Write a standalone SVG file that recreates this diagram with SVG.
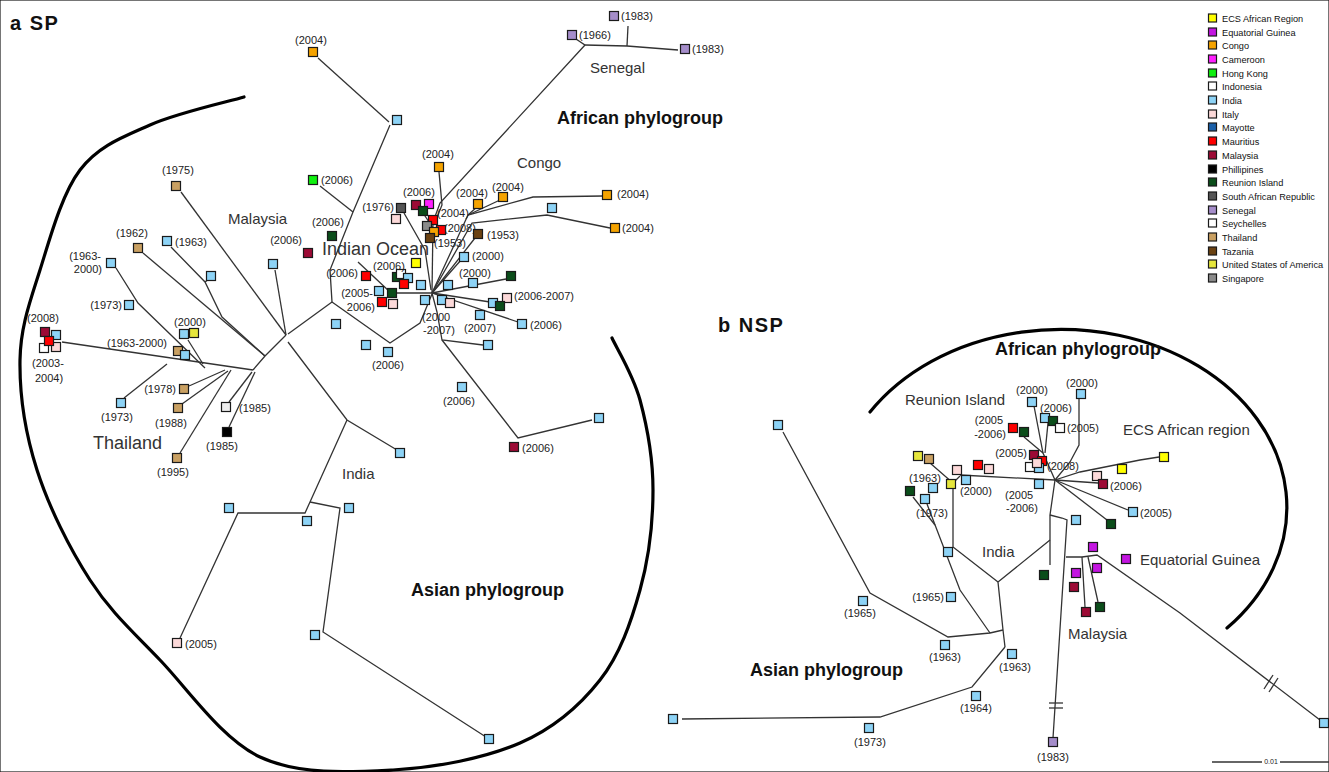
<svg xmlns="http://www.w3.org/2000/svg" width="1329" height="772" viewBox="0 0 1329 772">
<style>
text{font-family:"Liberation Sans",Arial,sans-serif;fill:#222}
.lb{font-size:11px}
.rg{font-size:15px;fill:#333}
.big{font-size:18px;fill:#333}
.bd{font-size:18px;font-weight:bold;fill:#111}
.tt{font-size:20px;font-weight:bold;fill:#111;letter-spacing:1.5px}
.lg{font-size:9.2px;fill:#111}
.ln{fill:none;stroke:#333;stroke-width:1.3}
.arc{fill:none;stroke:#000;stroke-width:3.2;stroke-linecap:round}
rect{stroke:#1a1a1a;stroke-width:1.2}
.B{fill:#8dd3f6}.O{fill:#f5a300}.T{fill:#c9a062}.G{fill:#0b4d1a}.R{fill:#ff0000}.M{fill:#9c0a35}
.P{fill:#fcd9d9}.W{fill:#ffffff}.Y{fill:#ffff00}.U{fill:#e6e63c}.S{fill:#a58dca}.E{fill:#c315e0}
.C{fill:#ff1fff}.H{fill:#10f010}.SG{fill:#8a8a8a}.TZ{fill:#6b4212}.SA{fill:#555555}.MY{fill:#1a5fa8}.K{fill:#000000}
</style>
<rect x="0" y="0" width="1329" height="772" fill="#ffffff" stroke="none"/>

<g id="titles">
<text class="tt" x="10" y="30">a SP</text>
<text class="tt" x="718" y="332">b NSP</text>
</g>

<g id="arcs">
<path class="arc" d="M244,97 C228.3,101.7 177.3,112.8 150,125 C122.7,137.2 98.3,145.8 80,170 C61.7,194.2 50,238.3 40,270 C30,301.7 20.5,326.7 20,360 C19.5,393.3 25.3,433.3 37,470 C48.7,506.7 69.5,548.3 90,580 C110.5,611.7 131.7,630.5 160,660 C188.3,689.5 221.2,738.3 260,757 C298.8,775.3 349.7,772.3 393,770 C436.3,767.7 485.5,758 520,743 C554.5,728 580,705.5 600,680 C620,654.5 631.2,621.7 640,590 C648.8,558.3 653,521.7 653,490 C653,458.3 646.8,425.3 640,400 C633.2,374.7 616.7,348.3 612,338"/>
<path class="arc" d="M870,412 A226,178 0 1 1 1227,628"/>
</g>

<g id="region-labels">
<text class="bd" x="557" y="124">African phylogroup</text>
<text class="bd" x="411" y="596">Asian phylogroup</text>
<text class="rg" x="590" y="73">Senegal</text>
<text class="rg" x="517" y="168">Congo</text>
<text class="rg" x="228" y="224">Malaysia</text>
<text class="big" x="322" y="255">Indian Ocean</text>
<text class="big" x="93" y="449">Thailand</text>
<text class="rg" x="342" y="479">India</text>
<text class="bd" x="995" y="355">African phylogroup</text>
<text class="bd" x="750" y="676">Asian phylogroup</text>
<text class="rg" x="905" y="405">Reunion Island</text>
<text class="rg" x="1123" y="435">ECS African region</text>
<text class="rg" x="982" y="557">India</text>
<text class="rg" x="1140" y="565">Equatorial Guinea</text>
<text class="rg" x="1068" y="639">Malaysia</text>
</g>

<g id="connectors">
<!-- SP Senegal -->
<polyline class="ln" points="576,39 585,45 627,46 678,50"/>
<polyline class="ln" points="627,46 628,26"/>
<polyline class="ln" points="585,45 440,203 433,222"/>
<!-- SP top -->
<polyline class="ln" points="318,58 389,122"/>
<polyline class="ln" points="390,125 353,212 330,270 332,302"/>
<polyline class="ln" points="320,186 353,212"/>
<!-- SP backbone -->
<polyline class="ln" points="332,302 288,334"/>
<polyline class="ln" points="332,302 390,343 420,323 432,294"/>
<polyline class="ln" points="286,335 181,192"/>
<polyline class="ln" points="286,335 275,270"/>
<polyline class="ln" points="286,335 265,356 253,370"/>
<!-- Thailand -->
<polyline class="ln" points="265,356 143,253"/>
<polyline class="ln" points="265,356 222,317 205,282 171,247"/>
<polyline class="ln" points="205,282 209,279"/>
<polyline class="ln" points="253,370 62,342"/>
<polyline class="ln" points="116,268 138,303 205,368"/>
<polyline class="ln" points="188,340 203,364"/>
<polyline class="ln" points="124,398 167,364"/>
<polyline class="ln" points="189,386 225,370"/>
<polyline class="ln" points="182,404 228,371"/>
<polyline class="ln" points="180,453 231,370"/>
<polyline class="ln" points="229,402 252,372"/>
<polyline class="ln" points="229,427 255,372"/>
<!-- India -->
<polyline class="ln" points="288,342 347,420 397,450"/>
<polyline class="ln" points="347,420 310,502 305,513 238,513 180,638"/>
<polyline class="ln" points="310,502 340,508 323,632 486,737"/>
<!-- Indian Ocean centre -->
<polyline class="ln" points="432,293 433,222"/>
<polyline class="ln" points="439,172 442,205 434,225"/>
<polyline class="ln" points="404,213 425,250 431,290"/>
<polyline class="ln" points="423,213 433,228"/>
<polyline class="ln" points="432,293 468,215 533,197 603,196"/>
<polyline class="ln" points="468,215 478,206"/>
<polyline class="ln" points="468,215 500,200"/>
<polyline class="ln" points="432,293 472,223 547,215 610,228"/>
<polyline class="ln" points="432,293 475,238"/>
<polyline class="ln" points="432,293 461,260"/>
<polyline class="ln" points="432,293 506,279"/>
<polyline class="ln" points="432,293 490,302"/>
<polyline class="ln" points="432,293 518,322"/>
<polyline class="ln" points="432,293 388,293"/>
<polyline class="ln" points="358,262 390,292"/>
<polyline class="ln" points="432,293 437,312 442,340 483,345"/>
<polyline class="ln" points="442,340 518,438 592,420"/>
<!-- NSP -->
<polyline class="ln" points="960,475 1055,480"/>
<polyline class="ln" points="930,463 953,483 953,547 998,582"/>
<polyline class="ln" points="953,483 960,476"/>
<polyline class="ln" points="927,504 960,590 990,633"/>
<polyline class="ln" points="913,497 935,525"/>
<polyline class="ln" points="1055,480 1050,515 1050,565"/>
<polyline class="ln" points="1050,540 998,582 1003,630 1005,647"/>
<polyline class="ln" points="1003,630 990,633 948,637 870,593 783,432"/>
<polyline class="ln" points="1005,647 972,687 880,717 682,719"/>
<polyline class="ln" points="1050,515 1062,518 1067,520 1053,738"/>
<polyline class="ln" points="1049,703 1063,703"/>
<polyline class="ln" points="1049,708 1063,708"/>
<polyline class="ln" points="1066,557 1082,557 1097,555 1180,613 1320,720"/>
<polyline class="ln" points="1264,689 1273,675"/>
<polyline class="ln" points="1269,692 1278,678"/>
<polyline class="ln" points="1082,557 1085,607"/>
<polyline class="ln" points="1088,557 1098,602"/>
<polyline class="ln" points="1055,480 1070,462 1079,445 1079,399"/>
<polyline class="ln" points="1055,480 1043,453 1034,406"/>
<polyline class="ln" points="1045,453 1048,423"/>
<polyline class="ln" points="1024,437 1043,453"/>
<polyline class="ln" points="1055,480 1080,472 1140,460 1159,457"/>
<polyline class="ln" points="1055,480 1098,483"/>
<polyline class="ln" points="1055,480 1128,510"/>
<polyline class="ln" points="1055,480 1107,520"/>
<!-- scale bar -->
<polyline class="ln" points="1212,762 1262,762"/>
<polyline class="ln" points="1280,762 1329,762"/>
</g>
<text x="1271" y="764" text-anchor="middle" style="font-size:7px">0.01</text>

<!-- SP nodes -->
<g id="sp-senegal-1"><rect class="S" x="609.5" y="11.5" width="9" height="9"/><text class="lb" x="621" y="20">(1983)</text></g>
<g id="sp-senegal-2"><rect class="S" x="567.5" y="30.5" width="9" height="9"/><text class="lb" x="579" y="39">(1966)</text></g>
<g id="sp-senegal-3"><rect class="S" x="680.5" y="44.5" width="9" height="9"/><text class="lb" x="692" y="53">(1983)</text></g>
<g id="sp-t1"><rect class="O" x="308.5" y="47.5" width="9" height="9"/><text class="lb" x="311" y="44" text-anchor="middle">(2004)</text></g>
<g id="sp-t2"><rect class="B" x="392.5" y="115.5" width="9" height="9"/></g>
<g id="sp-t3"><rect class="H" x="308.5" y="175.5" width="9" height="9"/><text class="lb" x="321" y="184">(2006)</text></g>
<g id="sp-c1"><rect class="O" x="434.5" y="162.5" width="9" height="9"/><text class="lb" x="438" y="158" text-anchor="middle">(2004)</text></g>
<g id="sp-c2"><rect class="M" x="411.5" y="200.5" width="9" height="9"/><rect class="C" x="424.5" y="199.5" width="9" height="9"/><rect class="G" x="418.5" y="206.5" width="9" height="9"/><text class="lb" x="419" y="196" text-anchor="middle">(2006)</text></g>
<g id="sp-c5"><rect class="SA" x="396.5" y="203.5" width="9" height="9"/><text class="lb" x="394" y="211" text-anchor="end">(1976)</text></g>
<g id="sp-c6"><rect class="P" x="391.5" y="214.5" width="9" height="9"/></g>
<g id="sp-c7"><rect class="R" x="428.5" y="215.5" width="9" height="9"/><text class="lb" x="437" y="217">(2004)</text></g>
<g id="sp-c8"><rect class="SG" x="422.5" y="221.5" width="9" height="9"/><rect class="R" x="436.5" y="225.5" width="9" height="9"/><rect class="O" x="429.5" y="227.5" width="9" height="9"/><text class="lb" x="444" y="232">(2008)</text></g>
<g id="sp-c11"><rect class="TZ" x="425.5" y="233.5" width="9" height="9"/><text class="lb" x="434" y="247">(1953)</text></g>
<g id="sp-c12"><rect class="TZ" x="473.5" y="229.5" width="9" height="9"/><text class="lb" x="487" y="239">(1953)</text></g>
<g id="sp-c13"><rect class="O" x="473.5" y="199.5" width="9" height="9"/><text class="lb" x="472" y="197" text-anchor="middle">(2004)</text></g>
<g id="sp-c14"><rect class="O" x="498.5" y="192.5" width="9" height="9"/><text class="lb" x="508" y="191" text-anchor="middle">(2004)</text></g>
<g id="sp-c15"><rect class="O" x="602.5" y="190.5" width="9" height="9"/><text class="lb" x="617" y="198">(2004)</text></g>
<g id="sp-c16"><rect class="B" x="547.5" y="203.5" width="9" height="9"/></g>
<g id="sp-c17"><rect class="O" x="610.5" y="223.5" width="9" height="9"/><text class="lb" x="622" y="232">(2004)</text></g>
<g id="sp-c18"><rect class="G" x="327.5" y="231.5" width="9" height="9"/><text class="lb" x="328" y="226" text-anchor="middle">(2006)</text></g>
<g id="sp-c19"><rect class="M" x="303.5" y="248.5" width="9" height="9"/><text class="lb" x="302" y="244" text-anchor="end">(2006)</text></g>
<g id="sp-c20"><rect class="Y" x="411.5" y="258.5" width="9" height="9"/></g>
<g id="sp-c21"><rect class="B" x="459.5" y="252.5" width="9" height="9"/><text class="lb" x="472" y="260">(2000)</text></g>
<g id="sp-c22"><rect class="G" x="392.5" y="272.5" width="9" height="9"/><rect class="W" x="396.5" y="269.5" width="9" height="9"/><rect class="B" x="403.5" y="273.5" width="9" height="9"/><rect class="R" x="399.5" y="279.5" width="9" height="9"/><text class="lb" x="389" y="270" text-anchor="middle">(2006)</text></g>
<g id="sp-c26"><rect class="R" x="361.5" y="271.5" width="9" height="9"/><text class="lb" x="358" y="277" text-anchor="end">(2006)</text></g>
<g id="sp-c27"><rect class="B" x="416.5" y="280.5" width="9" height="9"/></g>
<g id="sp-c28"><rect class="B" x="443.5" y="280.5" width="9" height="9"/></g>
<g id="sp-c29"><rect class="B" x="468.5" y="278.5" width="9" height="9"/><text class="lb" x="475" y="277" text-anchor="middle">(2000)</text></g>
<g id="sp-c30"><rect class="G" x="506.5" y="271.5" width="9" height="9"/></g>
<g id="sp-c31"><rect class="B" x="374.5" y="286.5" width="9" height="9"/><rect class="G" x="387.5" y="288.5" width="9" height="9"/><rect class="R" x="377.5" y="297.5" width="9" height="9"/><rect class="P" x="388.5" y="299.5" width="9" height="9"/><text class="lb" x="373" y="297" text-anchor="end">(2005-</text><text class="lb" x="375" y="311" text-anchor="end">2006)</text></g>
<g id="sp-c35"><rect class="B" x="420.5" y="295.5" width="9" height="9"/></g>
<g id="sp-c36"><rect class="B" x="437.5" y="295.5" width="9" height="9"/><rect class="P" x="445.5" y="298.5" width="9" height="9"/></g>
<g id="sp-c38"><rect class="B" x="488.5" y="298.5" width="9" height="9"/><rect class="P" x="502.5" y="293.5" width="9" height="9"/><rect class="G" x="495.5" y="301.5" width="9" height="9"/><text class="lb" x="514" y="300">(2006-2007)</text></g>
<g id="sp-c41"><rect class="B" x="475.5" y="310.5" width="9" height="9"/><text class="lb" x="480" y="332" text-anchor="middle">(2007)</text></g>
<g id="sp-c42"><rect class="B" x="517.5" y="319.5" width="9" height="9"/><text class="lb" x="530" y="329">(2006)</text></g>
<g id="sp-c43"><rect class="B" x="331.5" y="319.5" width="9" height="9"/></g>
<g id="sp-c44"><text class="lb" x="422" y="321">(2000</text><text class="lb" x="423" y="334">-2007)</text></g>
<g id="sp-c45"><rect class="B" x="361.5" y="340.5" width="9" height="9"/></g>
<g id="sp-c46"><rect class="B" x="383.5" y="347.5" width="9" height="9"/><text class="lb" x="388" y="369" text-anchor="middle">(2006)</text></g>
<g id="sp-c47"><rect class="B" x="483.5" y="340.5" width="9" height="9"/></g>
<g id="sp-c48"><rect class="B" x="457.5" y="382.5" width="9" height="9"/><text class="lb" x="459" y="405" text-anchor="middle">(2006)</text></g>
<g id="sp-c49"><rect class="M" x="509.5" y="442.5" width="9" height="9"/><text class="lb" x="522" y="452">(2006)</text></g>
<g id="sp-c50"><rect class="B" x="594.5" y="413.5" width="9" height="9"/></g>
<g id="sp-i1"><rect class="B" x="395.5" y="448.5" width="9" height="9"/></g>
<g id="sp-i2"><rect class="B" x="224.5" y="503.5" width="9" height="9"/></g>
<g id="sp-i3"><rect class="B" x="302.5" y="516.5" width="9" height="9"/></g>
<g id="sp-i4"><rect class="B" x="344.5" y="503.5" width="9" height="9"/></g>
<g id="sp-i5"><rect class="P" x="172.5" y="638.5" width="9" height="9"/><text class="lb" x="185" y="648">(2005)</text></g>
<g id="sp-i6"><rect class="B" x="310.5" y="630.5" width="9" height="9"/></g>
<g id="sp-i7"><rect class="B" x="484.5" y="734.5" width="9" height="9"/></g>
<g id="sp-m1"><rect class="B" x="268.5" y="259.5" width="9" height="9"/></g>
<g id="sp-th1"><rect class="T" x="171.5" y="181.5" width="9" height="9"/><text class="lb" x="178" y="174" text-anchor="middle">(1975)</text></g>
<g id="sp-th2"><rect class="T" x="133.5" y="243.5" width="9" height="9"/><text class="lb" x="132" y="237" text-anchor="middle">(1962)</text></g>
<g id="sp-th3"><rect class="B" x="162.5" y="236.5" width="9" height="9"/><text class="lb" x="175" y="246">(1963)</text></g>
<g id="sp-th4"><rect class="B" x="206.5" y="271.5" width="9" height="9"/></g>
<g id="sp-th5"><rect class="B" x="106.5" y="258.5" width="9" height="9"/><text class="lb" x="101" y="260" text-anchor="end">(1963-</text><text class="lb" x="102" y="273" text-anchor="end">2000)</text></g>
<g id="sp-th6"><rect class="B" x="124.5" y="300.5" width="9" height="9"/><text class="lb" x="122" y="309" text-anchor="end">(1973)</text></g>
<g id="sp-th7"><rect class="M" x="40.5" y="327.5" width="9" height="9"/><rect class="B" x="51.5" y="330.5" width="9" height="9"/><rect class="W" x="39.5" y="343.5" width="9" height="9"/><rect class="P" x="51.5" y="342.5" width="9" height="9"/><rect class="R" x="44.5" y="336.5" width="9" height="9"/><text class="lb" x="43" y="322" text-anchor="middle">(2008)</text><text class="lb" x="48" y="367" text-anchor="middle">(2003-</text><text class="lb" x="49" y="382" text-anchor="middle">2004)</text></g>
<g id="sp-th8"><rect class="B" x="179.5" y="329.5" width="9" height="9"/><rect class="U" x="189.5" y="328.5" width="9" height="9"/><text class="lb" x="190" y="326" text-anchor="middle">(2000)</text></g>
<g id="sp-th10"><rect class="T" x="173.5" y="346.5" width="9" height="9"/><rect class="B" x="180.5" y="350.5" width="9" height="9"/><text class="lb" x="107" y="347">(1963-2000)</text></g>
<g id="sp-th12"><rect class="T" x="179.5" y="384.5" width="9" height="9"/><text class="lb" x="176" y="393" text-anchor="end">(1978)</text></g>
<g id="sp-th13"><rect class="T" x="173.5" y="403.5" width="9" height="9"/><text class="lb" x="171" y="427" text-anchor="middle">(1988)</text></g>
<g id="sp-th14"><rect class="B" x="116.5" y="398.5" width="9" height="9"/><text class="lb" x="117" y="421" text-anchor="middle">(1973)</text></g>
<g id="sp-th15"><rect class="W" x="221.5" y="402.5" width="9" height="9" style="fill:#eeeeee"/><text class="lb" x="239" y="412">(1985)</text></g>
<g id="sp-th16"><rect class="K" x="222.5" y="427.5" width="9" height="9"/><text class="lb" x="222" y="450" text-anchor="middle">(1985)</text></g>
<g id="sp-th17"><rect class="T" x="172.5" y="453.5" width="9" height="9"/><text class="lb" x="173" y="476" text-anchor="middle">(1995)</text></g>

<!-- NSP nodes -->
<g id="nsp-n1"><rect class="B" x="1027.5" y="397.5" width="9" height="9"/><text class="lb" x="1032" y="394" text-anchor="middle">(2000)</text></g>
<g id="nsp-n2"><rect class="B" x="1076.5" y="389.5" width="9" height="9"/><text class="lb" x="1082" y="387" text-anchor="middle">(2000)</text></g>
<g id="nsp-n3"><rect class="B" x="1040.5" y="413.5" width="9" height="9"/><rect class="G" x="1048.5" y="416.5" width="9" height="9"/><text class="lb" x="1056" y="412" text-anchor="middle">(2006)</text></g>
<g id="nsp-n5"><rect class="W" x="1055.5" y="423.5" width="9" height="9"/><text class="lb" x="1067" y="432">(2005)</text></g>
<g id="nsp-n6"><rect class="R" x="1008.5" y="423.5" width="9" height="9"/><rect class="G" x="1019.5" y="427.5" width="9" height="9"/><text class="lb" x="1003" y="424" text-anchor="end">(2005</text><text class="lb" x="1006" y="438" text-anchor="end">-2006)</text></g>
<g id="nsp-n8"><rect class="M" x="1029.5" y="450.5" width="9" height="9"/><rect class="R" x="1037.5" y="456.5" width="9" height="9"/><rect class="W" x="1025.5" y="462.5" width="9" height="9"/><rect class="B" x="1034.5" y="463.5" width="9" height="9"/><rect class="P" x="1032.5" y="458.5" width="9" height="9"/><text class="lb" x="1027" y="457" text-anchor="end">(2005)</text><text class="lb" x="1047" y="470">(2008)</text></g>
<g id="nsp-n13"><rect class="Y" x="1159.5" y="452.5" width="9" height="9"/></g>
<g id="nsp-n14"><rect class="Y" x="1117.5" y="464.5" width="9" height="9"/></g>
<g id="nsp-n15"><rect class="P" x="1092.5" y="471.5" width="9" height="9"/><rect class="M" x="1098.5" y="479.5" width="9" height="9"/><text class="lb" x="1110" y="490">(2006)</text></g>
<g id="nsp-n17"><rect class="U" x="913.5" y="451.5" width="9" height="9"/><rect class="T" x="924.5" y="454.5" width="9" height="9"/></g>
<g id="nsp-n19"><rect class="P" x="952.5" y="465.5" width="9" height="9"/></g>
<g id="nsp-n20"><rect class="R" x="973.5" y="460.5" width="9" height="9"/></g>
<g id="nsp-n21"><rect class="P" x="984.5" y="464.5" width="9" height="9"/></g>
<g id="nsp-n22"><rect class="B" x="961.5" y="475.5" width="9" height="9"/><text class="lb" x="976" y="495" text-anchor="middle">(2000)</text></g>
<g id="nsp-n23"><rect class="U" x="946.5" y="479.5" width="9" height="9"/></g>
<g id="nsp-n24"><rect class="B" x="928.5" y="483.5" width="9" height="9"/><text class="lb" x="925" y="482" text-anchor="middle">(1963)</text></g>
<g id="nsp-n25"><rect class="G" x="905.5" y="486.5" width="9" height="9"/></g>
<g id="nsp-n26"><rect class="B" x="920.5" y="494.5" width="9" height="9"/><text class="lb" x="932" y="517" text-anchor="middle">(1973)</text></g>
<g id="nsp-n27"><rect class="B" x="1034.5" y="479.5" width="9" height="9"/><text class="lb" x="1005" y="499">(2005</text><text class="lb" x="1006" y="512">-2006)</text></g>
<g id="nsp-n28"><rect class="B" x="1128.5" y="507.5" width="9" height="9"/><text class="lb" x="1140" y="517">(2005)</text></g>
<g id="nsp-n29"><rect class="G" x="1106.5" y="519.5" width="9" height="9"/></g>
<g id="nsp-n30"><rect class="B" x="1071.5" y="515.5" width="9" height="9"/></g>
<g id="nsp-n31"><rect class="B" x="943.5" y="547.5" width="9" height="9"/></g>
<g id="nsp-n32"><rect class="B" x="946.5" y="592.5" width="9" height="9"/><text class="lb" x="944" y="601" text-anchor="end">(1965)</text></g>
<g id="nsp-n33"><rect class="B" x="940.5" y="640.5" width="9" height="9"/><text class="lb" x="945" y="661" text-anchor="middle">(1963)</text></g>
<g id="nsp-n34"><rect class="B" x="1007.5" y="649.5" width="9" height="9"/><text class="lb" x="1015" y="671" text-anchor="middle">(1963)</text></g>
<g id="nsp-n35"><rect class="B" x="971.5" y="691.5" width="9" height="9"/><text class="lb" x="976" y="712" text-anchor="middle">(1964)</text></g>
<g id="nsp-n36"><rect class="E" x="1088.5" y="542.5" width="9" height="9"/></g>
<g id="nsp-n37"><rect class="E" x="1121.5" y="554.5" width="9" height="9"/></g>
<g id="nsp-n38"><rect class="E" x="1071.5" y="568.5" width="9" height="9"/></g>
<g id="nsp-n39"><rect class="E" x="1092.5" y="563.5" width="9" height="9"/></g>
<g id="nsp-n40"><rect class="M" x="1069.5" y="582.5" width="9" height="9"/></g>
<g id="nsp-n41"><rect class="M" x="1081.5" y="607.5" width="9" height="9"/></g>
<g id="nsp-n42"><rect class="G" x="1095.5" y="602.5" width="9" height="9"/></g>
<g id="nsp-n43"><rect class="G" x="1039.5" y="570.5" width="9" height="9"/></g>
<g id="nsp-n44"><rect class="S" x="1048.5" y="737.5" width="9" height="9"/><text class="lb" x="1053" y="761" text-anchor="middle">(1983)</text></g>
<g id="nsp-n45"><rect class="B" x="773.5" y="420.5" width="9" height="9"/></g>
<g id="nsp-n46"><rect class="B" x="858.5" y="596.5" width="9" height="9"/><text class="lb" x="860" y="617" text-anchor="middle">(1965)</text></g>
<g id="nsp-n47"><rect class="B" x="668.5" y="714.5" width="9" height="9"/></g>
<g id="nsp-n48"><rect class="B" x="864.5" y="723.5" width="9" height="9"/><text class="lb" x="870" y="746" text-anchor="middle">(1973)</text></g>
<g id="nsp-n49"><rect class="B" x="1319.5" y="718.5" width="9" height="9"/></g>

<!-- legend -->
<g id="legend">
<rect class="Y" x="1208.5" y="14" width="8" height="8"/><text class="lg" x="1222" y="21.5">ECS African Region</text>
<rect class="E" x="1208.5" y="28" width="8" height="8"/><text class="lg" x="1222" y="35.5">Equatorial Guinea</text>
<rect class="O" x="1208.5" y="41" width="8" height="8"/><text class="lg" x="1222" y="48.5">Congo</text>
<rect class="C" x="1208.5" y="55" width="8" height="8"/><text class="lg" x="1222" y="62.5">Cameroon</text>
<rect class="H" x="1208.5" y="69" width="8" height="8"/><text class="lg" x="1222" y="76.5">Hong Kong</text>
<rect class="W" x="1208.5" y="82" width="8" height="8"/><text class="lg" x="1222" y="89.5">Indonesia</text>
<rect class="B" x="1208.5" y="96" width="8" height="8"/><text class="lg" x="1222" y="103.5">India</text>
<rect class="P" x="1208.5" y="110" width="8" height="8"/><text class="lg" x="1222" y="117.5">Italy</text>
<rect class="MY" x="1208.5" y="123" width="8" height="8"/><text class="lg" x="1222" y="130.5">Mayotte</text>
<rect class="R" x="1208.5" y="137" width="8" height="8"/><text class="lg" x="1222" y="144.5">Mauritius</text>
<rect class="M" x="1208.5" y="151" width="8" height="8"/><text class="lg" x="1222" y="158.5">Malaysia</text>
<rect class="K" x="1208.5" y="165" width="8" height="8"/><text class="lg" x="1222" y="172.5">Phillipines</text>
<rect class="G" x="1208.5" y="178" width="8" height="8"/><text class="lg" x="1222" y="185.5">Reunion Island</text>
<rect class="SA" x="1208.5" y="192" width="8" height="8"/><text class="lg" x="1222" y="199.5">South African Republic</text>
<rect class="S" x="1208.5" y="206" width="8" height="8"/><text class="lg" x="1222" y="213.5">Senegal</text>
<rect class="W" x="1208.5" y="219" width="8" height="8"/><text class="lg" x="1222" y="226.5">Seychelles</text>
<rect class="T" x="1208.5" y="233" width="8" height="8"/><text class="lg" x="1222" y="240.5">Thailand</text>
<rect class="TZ" x="1208.5" y="247" width="8" height="8"/><text class="lg" x="1222" y="254.5">Tazania</text>
<rect class="U" x="1208.5" y="260" width="8" height="8"/><text class="lg" x="1222" y="267.5">United States of America</text>
<rect class="SG" x="1208.5" y="274" width="8" height="8"/><text class="lg" x="1222" y="281.5">Singapore</text>
</g>
</svg>
